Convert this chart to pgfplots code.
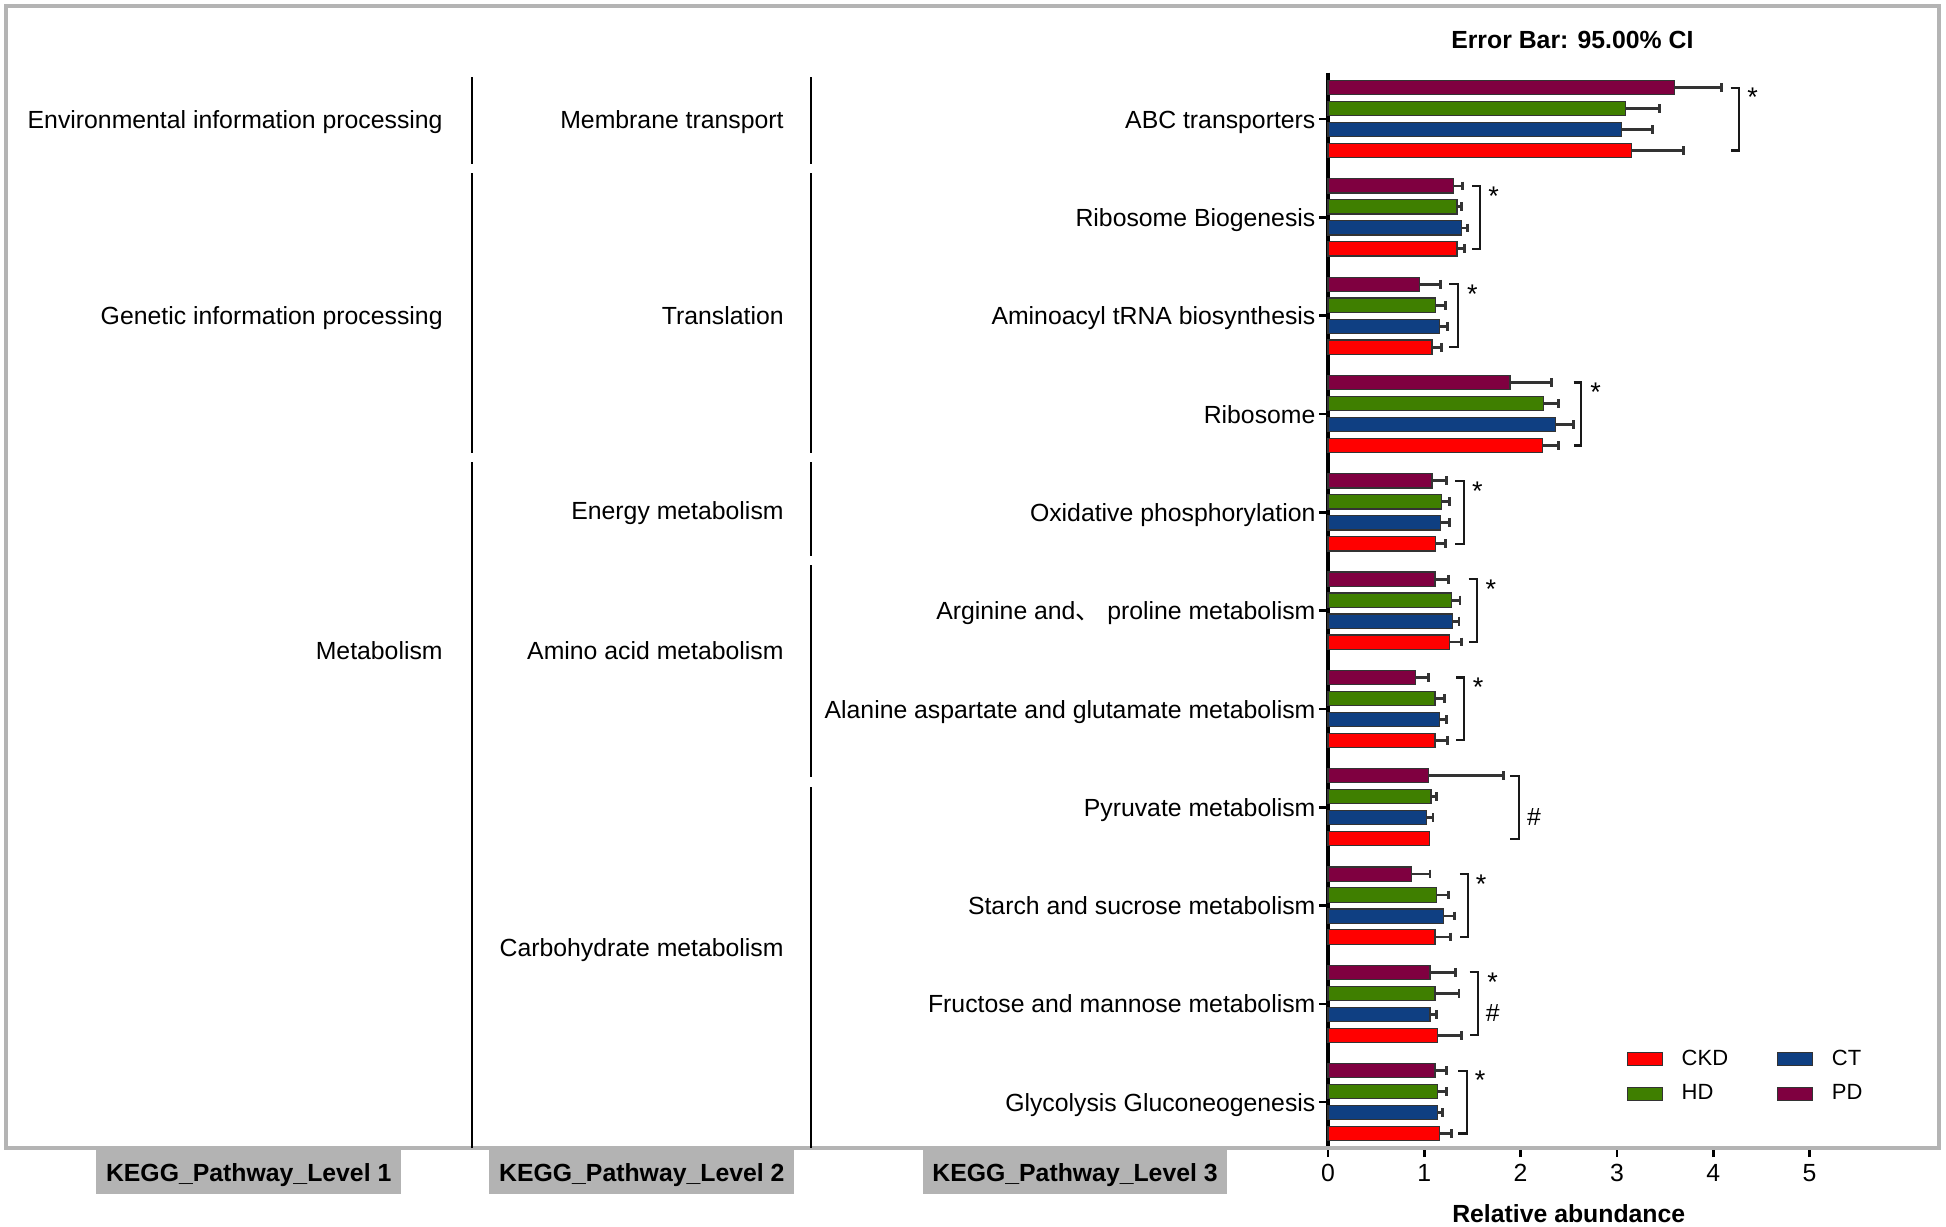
\documentclass[border=0pt]{standalone}
\usepackage{pgfplots}
\pgfplotsset{compat=1.18}
\usepackage{pgfplotstable}
\usepackage{fontspec}
\setmainfont{Liberation Sans}
\newfontfamily\cjk{Noto Sans CJK SC}

\definecolor{ckd}{HTML}{FF0000}
\definecolor{hd}{HTML}{3F7F00}
\definecolor{ct}{HTML}{0F3F82}
\definecolor{pd}{HTML}{7F0040}
\definecolor{framegray}{HTML}{B4B4B4}
\definecolor{boxgray}{HTML}{B3B3B3}
\definecolor{barborder}{HTML}{333333}
\definecolor{errgray}{HTML}{333333}

% y = category index (0 = ABC transporters, top), v = mean, e = upper CI half-width
\pgfplotstableread{
y v e
0 3.60 0.49
1 1.30 0.10
2 0.95 0.22
3 1.89 0.43
4 1.08 0.15
5 1.11 0.14
6 0.91 0.13
7 1.04 0.78
8 0.87 0.19
9 1.06 0.26
10 1.11 0.12
}\pdtab
\pgfplotstableread{
y v e
0 3.09 0.35
1 1.34 0.05
2 1.12 0.10
3 2.24 0.15
4 1.18 0.08
5 1.28 0.09
6 1.11 0.10
7 1.07 0.06
8 1.13 0.12
9 1.11 0.25
10 1.14 0.09
}\hdtab
\pgfplotstableread{
y v e
0 3.05 0.32
1 1.39 0.06
2 1.16 0.08
3 2.36 0.19
4 1.17 0.09
5 1.29 0.07
6 1.16 0.07
7 1.02 0.07
8 1.20 0.11
9 1.06 0.07
10 1.14 0.05
}\cttab
\pgfplotstableread{
y v e
0 3.15 0.54
1 1.34 0.08
2 1.08 0.10
3 2.23 0.16
4 1.12 0.10
5 1.26 0.13
6 1.11 0.13
8 1.11 0.16
9 1.14 0.25
10 1.16 0.12
}\ckdtab
\pgfplotstableread{
y v
7 1.05
}\ckdnoerr

\pgfplotsset{
  errstyle/.style={error bars/.cd, x dir=plus, x explicit,
    error bar style={line width=1.4pt, draw=errgray},
    error mark options={rotate=90, line width=1.4pt, draw=errgray, mark size=2.2pt}},
}

\begin{document}
\begin{tikzpicture}
\begin{scope}[x=0.5pt, y=-0.5pt]
  \useasboundingbox (0,0) rectangle (1946,1226);
\end{scope}
\begin{axis}[
  at={(664pt,-574pt)}, anchor=south west,
  scale only axis, width=240.75pt, height=537.65pt,
  font=\fontsize{12.4}{14}\selectfont,
  xmin=0, xmax=5, ymin=-0.472, ymax=10.467,
  y dir=reverse, enlargelimits=false, clip=false,
  axis x line*=bottom, axis y line*=left,
  x axis line style={draw=none},
  y axis line style={line width=1.6pt, black},
  xtick={0,1,2,3,4,5}, ytick={0,1,...,10},
  yticklabels={ABC transporters, Ribosome Biogenesis, Aminoacyl tRNA biosynthesis, Ribosome, Oxidative phosphorylation, Arginine and{\cjk 、} proline metabolism, Alanine aspartate and glutamate metabolism, Pyruvate metabolism, Starch and sucrose metabolism, Fructose and mannose metabolism, Glycolysis Gluconeogenesis},
  tick align=outside, major tick length=4.6pt,
  tick style={line width=1.3pt, black},
  /pgf/number format/assume math mode=true,
  yticklabel style={anchor=base east, inner sep=0pt, xshift=-1.5pt, yshift=-4.55pt},
  xticklabel style={anchor=base, inner sep=0pt, yshift=-12pt},
  xlabel={\bfseries Relative abundance},
  xlabel style={at={(axis description cs:0.5,0)}, anchor=base, inner sep=0pt, yshift=-37pt},
  title={\bfseries Error Bar: 95.00\% CI},
  title style={at={(axis description cs:0.5,1)}, anchor=base, yshift=6.25pt, xshift=1.8pt},
  xbar, bar width=0.145,
  legend columns=2,
  legend image code/.code={\draw[#1] (0pt,-3.25pt) rectangle (17.65pt,3.25pt);},
  legend style={at={(axis cs:3.10,9.47)}, anchor=north west, draw=none, fill=none,
    inner sep=0pt, outer sep=0pt, font=\fontsize{11}{13}\selectfont,
    nodes={inner sep=0pt}, row sep=8.1pt,
    /tikz/every odd column/.append style={column sep=9.35pt},
    /tikz/every even column/.append style={column sep=24.3pt}},
  legend cell align=left,
]
\addplot[xbar, bar shift=0.32, fill=ckd, draw=barborder, line width=0.6pt, errstyle]
  table[x=v, y=y, x error=e] {\ckdtab};
\addlegendentry{CKD}
\addplot[xbar, bar shift=0.32, fill=ckd, draw=barborder, line width=0.6pt, forget plot]
  table[x=v, y=y] {\ckdnoerr};
\addplot[xbar, bar shift=0.107, fill=ct, draw=barborder, line width=0.6pt, errstyle]
  table[x=v, y=y, x error=e] {\cttab};
\addlegendentry{CT}
\addplot[xbar, bar shift=-0.107, fill=hd, draw=barborder, line width=0.6pt, errstyle]
  table[x=v, y=y, x error=e] {\hdtab};
\addlegendentry{HD}
\addplot[xbar, bar shift=-0.32, fill=pd, draw=barborder, line width=0.6pt, errstyle]
  table[x=v, y=y, x error=e] {\pdtab};
\addlegendentry{PD}

% significance brackets: index / tick start / vertical / star x
\foreach \i/\t/\v/\s in {0/4.18/4.27/4.41, 1/1.50/1.58/1.72, 2/1.26/1.35/1.50, 3/2.55/2.63/2.78, 4/1.32/1.41/1.55, 5/1.46/1.55/1.69, 6/1.33/1.41/1.56, 8/1.37/1.45/1.59, 9/1.47/1.56/1.71, 10/1.35/1.44/1.58}{
  \edef\temp{\noexpand\draw[line width=1.1pt, black!90] (axis cs:\t,\i-0.32) -- (axis cs:\v,\i-0.32) -- (axis cs:\v,\i+0.32) -- (axis cs:\t,\i+0.32);
    \noexpand\node[anchor=base, inner sep=0pt, font=\noexpand\fontsize{13.5}{15}\noexpand\selectfont] at (axis cs:\s,\i-0.125) {*};}
  \temp
}
\draw[line width=1.1pt, black!90] (axis cs:1.89,6.68) -- (axis cs:1.98,6.68) -- (axis cs:1.98,7.32) -- (axis cs:1.89,7.32);
\node[anchor=base, inner sep=0pt] at (axis cs:2.14,7.185) {\#};
\node[anchor=base, inner sep=0pt] at (axis cs:1.71,9.18) {\#};
\end{axis}

\begin{scope}[x=0.5pt, y=-0.5pt, font=\fontsize{12.4}{14}\selectfont]
  % outer frame
  \draw[framegray, line width=1.65pt] (6,6) rectangle (1939,1148);
  % separators
  \foreach \a/\b in {77/164, 173/453, 462/1148}{\draw[black, line width=1pt] (471.7,\a) -- (471.7,\b);}
  \foreach \a/\b in {77/164, 173/453, 462/556, 565/777, 787/1148}{\draw[black, line width=1pt] (811,\a) -- (811,\b);}
  % level 1
  \node[anchor=base east, inner sep=0pt] at (443,128.2) {Environmental information processing};
  \node[anchor=base east, inner sep=0pt] at (443,324.2) {Genetic information processing};
  \node[anchor=base east, inner sep=0pt] at (443,659.2) {Metabolism};
  % level 2
  \node[anchor=base east, inner sep=0pt] at (784,128.2) {Membrane transport};
  \node[anchor=base east, inner sep=0pt] at (784,324.2) {Translation};
  \node[anchor=base east, inner sep=0pt] at (784,519.6) {Energy metabolism};
  \node[anchor=base east, inner sep=0pt] at (784,659.2) {Amino acid metabolism};
  \node[anchor=base east, inner sep=0pt] at (784,956.2) {Carbohydrate metabolism};
  % level headers
  \fill[boxgray] (96.2,1150) rectangle (401.3,1194);
  \fill[boxgray] (489.2,1150) rectangle (794.4,1194);
  \fill[boxgray] (922.9,1150) rectangle (1227.2,1194);
  \node[anchor=base, inner sep=0pt, font=\fontsize{12.4}{14}\selectfont\bfseries] at (248.7,1181) {KEGG\_Pathway\_Level 1};
  \node[anchor=base, inner sep=0pt, font=\fontsize{12.4}{14}\selectfont\bfseries] at (641.8,1181) {KEGG\_Pathway\_Level 2};
  \node[anchor=base, inner sep=0pt, font=\fontsize{12.4}{14}\selectfont\bfseries] at (1075,1181) {KEGG\_Pathway\_Level 3};
\end{scope}
\end{tikzpicture}
\end{document}
